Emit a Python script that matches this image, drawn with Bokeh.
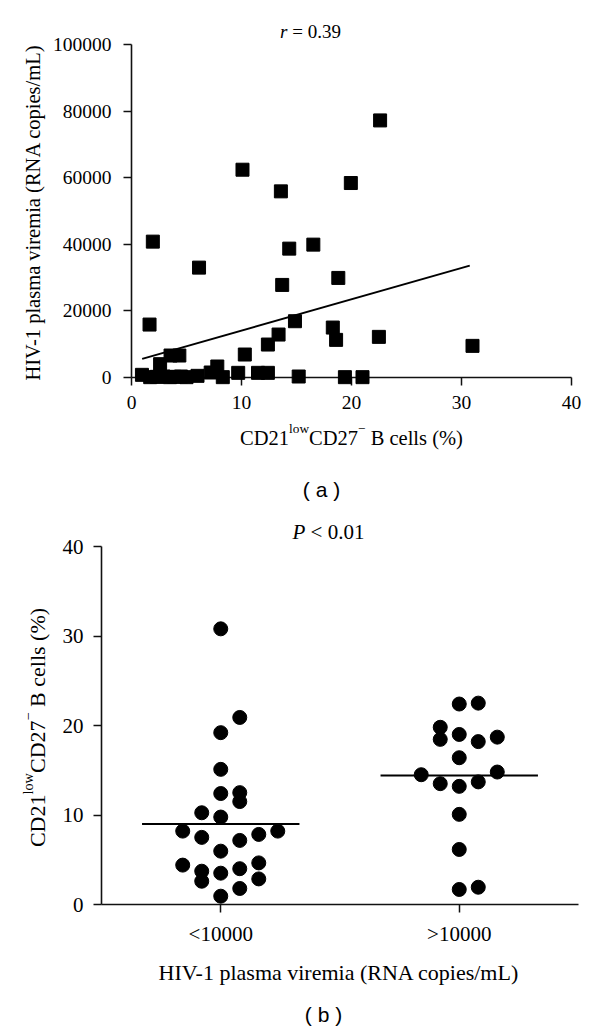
import math
from bokeh.plotting import figure
from bokeh.layouts import column, row
from bokeh.models import FixedTicker, BasicTickFormatter
from bokeh.core.properties import value
from bokeh.embed import file_html
from bokeh.resources import INLINE

# ---------------- data: panel (a) ----------------
cd21_pct = [0.95, 1.7, 2.3, 2.9, 3.5, 3.9, 4.5, 5.0, 6.0, 7.2, 7.8, 8.3, 9.7, 11.5, 12.4,
            15.2, 19.4, 21.0, 2.6, 3.55, 4.35, 10.3, 12.4, 31.0,
            1.64, 1.94, 6.14, 10.09, 13.37, 13.58, 13.7, 14.34, 14.86, 16.53, 18.3, 18.6,
            18.8, 19.94, 22.49, 22.6]
viremia = [800, 100, 200, 300, 100, 200, 300, 100, 500, 1500, 3300, 100, 1400, 1400, 1400,
           300, 100, 100, 4000, 6600, 6600, 6900, 9900, 9500,
           15900, 40800, 33000, 62400, 12900, 55900, 27800, 38700, 16900, 39900, 15000, 11300,
           29900, 58400, 12200, 77200]
fit_x = [0.97, 30.75]
fit_y = [5600, 33600]
xa_ticks = [0, 10, 20, 30, 40]
ya_ticks = [0, 20000, 40000, 60000, 80000, 100000]
r_text = "0.39"

# ---------------- data: panel (b) ----------------
groups = ["<10000", ">10000"]
low_vals = [30.8, 20.9, 19.2, 15.1, 12.4, 12.5, 11.5, 10.25, 9.77, 8.2, 7.5, 7.16, 7.83, 8.2,
            5.96, 4.4, 3.72, 2.6, 3.5, 4.0, 4.65, 2.86, 1.79, 0.93]
low_slot = [0, 1, 0, 0, 0, 1, 1, -1, 0, -2, -1, 1, 2, 3, 0, -2, -1, -1, 0, 1, 2, 2, 1, 0]
high_vals = [22.4, 22.5, 19.8, 18.45, 19.0, 18.2, 18.7, 16.4, 14.5, 13.5, 13.2, 13.7, 14.8,
             10.07, 6.15, 1.68, 1.93]
high_slot = [0, 1, -1, -1, 0, 1, 2, 0, -2, -1, 0, 1, 2, 0, 0, 0, 1]
medians = [9.0, 14.4]
yb_ticks = [0, 10, 20, 30, 40]
p_text = "0.01"

SERIF = "Liberation Serif"
SANS = "Liberation Sans"
FIX = 6  # renderer baseline correction, px

# Times-metric advance widths (per 1000 em)
W = {" ": 250, "(": 333, ")": 333, "%": 833, "-": 333, ".": 250, "/": 278, "<": 564, ">": 564,
     "=": 564, "\u2212": 564, "A": 722, "B": 667, "C": 667, "D": 722, "H": 722, "I": 333,
     "L": 611, "N": 722, "P": 556, "R": 667, "V": 722, "a": 444, "c": 444, "e": 444, "i": 278,
     "l": 278, "m": 778, "o": 500, "p": 500, "r": 333, "s": 389, "v": 500, "w": 722}
WI = {"r": 389, "P": 611}


def tw(s, size, italic=False):
    tot = 0
    for ch in s:
        if italic and ch in WI:
            tot += WI[ch]
        else:
            tot += W.get(ch, 500)
    return tot / 1000.0 * size


def put_text(p, x, y, t, size, font, italic=False, angle=0.0, align="left"):
    r = p.text(x=[x], y=[y], text=[t], angle=angle, text_font=value(font),
               text_font_size=value(f"{size}px"), text_color="black",
               text_font_style="italic" if italic else "normal",
               text_align=align, text_baseline="alphabetic")
    r.level = "overlay"
    return r


def split_lead(t):
    s = t.lstrip(" ")
    return len(t) - len(s), s


def place_h(p, pieces, cx, base, fx, fy, font):
    total = sum(tw(t, s, it) for t, s, r, it in pieces)
    x = cx - total / 2
    for t, s, r, it in pieces:
        n, body = split_lead(t)
        x0 = x + tw(" " * n, s)
        put_text(p, fx(x0), fy(base - r - FIX), body, s, font, it)
        x += tw(t, s, it)


def place_v(p, pieces, cy, base, fx, fy, font):
    total = sum(tw(t, s, it) for t, s, r, it in pieces)
    y = cy + total / 2
    for t, s, r, it in pieces:
        n, body = split_lead(t)
        y0 = y - tw(" " * n, s)
        put_text(p, fx(base - r - FIX), fy(y0), body, s, font, it, angle=math.pi / 2)
        y -= tw(t, s, it)


def cd_pieces(size):
    sup = round(size * 0.65, 1)
    rise = size * 0.42
    return [("CD21", size, 0, False), ("low", sup, rise, False), ("CD27", size, 0, False),
            ("\u2212", sup, rise, False), (" B cells (%)", size, 0, False)]


def style(p, tick_font, standoff_x, standoff_y):
    p.outline_line_color = None
    p.xgrid.visible = False
    p.ygrid.visible = False
    p.background_fill_color = "white"
    p.border_fill_color = "white"
    for ax, so in ((p.xaxis[0], standoff_x), (p.yaxis[0], standoff_y)):
        ax.axis_line_color = "#111111"
        ax.axis_line_width = 1.6
        ax.major_tick_line_color = "#111111"
        ax.major_tick_line_width = 1.5
        ax.major_tick_out = 8
        ax.major_tick_in = 0
        ax.minor_tick_line_color = None
        ax.major_label_text_font = SERIF
        ax.major_label_text_font_size = tick_font
        ax.major_label_text_color = "black"
        ax.major_label_standoff = so


# ---------------- panel (a) ----------------
p1 = figure(frame_width=440, frame_height=333, min_border_left=131, min_border_right=25,
            min_border_top=44, min_border_bottom=136, x_range=(0, 40), y_range=(0, 100000),
            output_backend="svg", toolbar_location=None)
style(p1, "19.5px", 10, 12)
p1.xaxis.ticker = FixedTicker(ticks=xa_ticks)
p1.yaxis.ticker = FixedTicker(ticks=ya_ticks)
p1.yaxis.formatter = BasicTickFormatter(use_scientific=False)

fit = p1.line(fit_x, fit_y, line_color="black", line_width=2)
sq = p1.scatter(cd21_pct, viremia, marker="square", size=13, fill_color="black",
                line_color="black")
sq.level = "overlay"


def fx1(px):
    return (px - 131) / 11.0


def fy1(py):
    return (377 - py) * 100000 / 333.0


place_h(p1, [("r", 19, 0, True), (" = " + r_text, 19, 0, False)], 310, 37, fx1, fy1, SERIF)
place_h(p1, cd_pieces(20.5), 351, 443, fx1, fy1, SERIF)
place_v(p1, [("HIV-1 plasma viremia (RNA copies/mL)", 20.5, 0, False)], 211, 38, fx1, fy1, SERIF)
put_text(p1, fx1(321), fy1(495 - FIX), "( a )", 21, SANS, align="center")

# ---------------- panel (b) ----------------
p2 = figure(frame_width=477, frame_height=358, min_border_left=101, min_border_right=18,
            min_border_top=33, min_border_bottom=127, x_range=(0.5, 2.5), y_range=(0, 40),
            output_backend="svg", toolbar_location=None)
style(p2, "21px", 9, 10)
p2.xaxis.ticker = FixedTicker(ticks=[1, 2])
p2.xaxis.major_label_overrides = {1: groups[0], 2: groups[1]}
p2.yaxis.ticker = FixedTicker(ticks=yb_ticks)

STEP = 0.0797
HALF = 0.33
lx = [1 + s * STEP for s in low_slot]
hx = [2 + s * STEP for s in high_slot]
p2.segment(x0=[1 - HALF, 2 - HALF], y0=medians, x1=[1 + HALF, 2 + HALF], y1=medians,
           line_color="black", line_width=2)
c1 = p2.scatter(lx, low_vals, marker="circle", size=14, fill_color="black", line_color="black")
c2 = p2.scatter(hx, high_vals, marker="circle", size=14, fill_color="black", line_color="black")
c1.level = "overlay"
c2.level = "overlay"


def fx2(px):
    return 0.5 + (px - 101) / 238.5


def fy2(py):
    return (904 - py) / 8.95


place_h(p2, [("P", 21, 0, True), (" < " + p_text, 21, 0, False)], 328, 537, fx2, fy2, SERIF)
place_h(p2, [("HIV-1 plasma viremia (RNA copies/mL)", 22, 0, False)], 339.5, 978, fx2, fy2, SERIF)
place_v(p2, cd_pieces(22), 727, 43, fx2, fy2, SERIF)
put_text(p2, fx2(323), fy2(1020 - FIX), "( b )", 21, SANS, align="center")

layout = column(row(p1), row(p2), spacing=0)
open("out.html", "w").write(file_html(layout, INLINE))
